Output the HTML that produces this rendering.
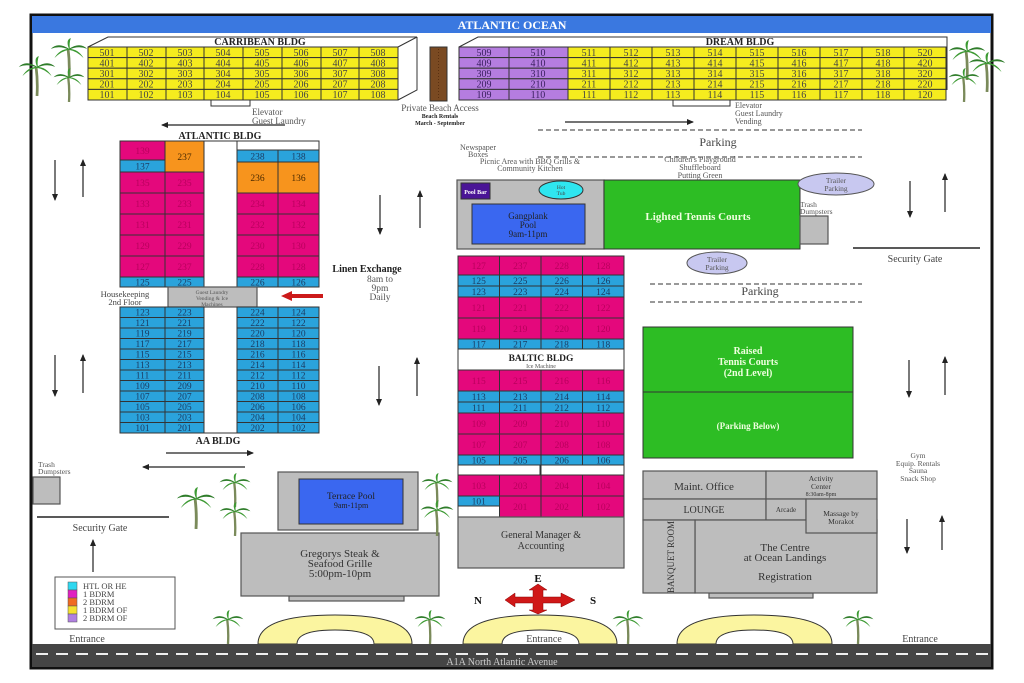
<!DOCTYPE html>
<html><head><meta charset="utf-8"><style>
html,body{margin:0;padding:0;background:#fff;}
svg{display:block;}
text{font-family:"Liberation Serif",serif;}
.c text,text.c{text-anchor:middle;}
.y rect{fill:#f5ec1e;stroke:#333;stroke-width:1;}
.y text{font-size:10px;fill:#444;text-anchor:middle;}
.p rect{fill:#e4087c;stroke:#333;stroke-width:1;}
.p text{font-size:9.5px;fill:#b8005c;text-anchor:middle;}
.b rect{fill:#2aa3dc;stroke:#333;stroke-width:1;}
.b text{font-size:9.5px;fill:#1b3c63;text-anchor:middle;}
.o rect{fill:#f7941d;stroke:#333;stroke-width:1;}
.o text{font-size:9.5px;fill:#4a2a00;text-anchor:middle;}
.v rect{fill:#b57de0;stroke:#333;stroke-width:1;}
.v text{font-size:10px;fill:#3a2060;text-anchor:middle;}
.g{fill:#bdbdbd;stroke:#555;stroke-width:1.2;}
.t{font-size:9px;fill:#555;text-anchor:middle;}
.ar{stroke:#222;stroke-width:1.2;fill:none;}
</style></head><body>
<svg width="1024" height="683" viewBox="0 0 1024 683" xmlns="http://www.w3.org/2000/svg">
<defs>
<marker id="ah" markerWidth="8" markerHeight="8" refX="6" refY="4" orient="auto" markerUnits="userSpaceOnUse"><path d="M0,1 L7,4 L0,7 z" fill="#222"/></marker>
<symbol id="palm" viewBox="0 0 40 44">
<path d="M19,12 Q21,28 20,44" stroke="#7a8a5a" stroke-width="3" fill="none"/>
<path d="M20,12 Q8,4 0,12 Q10,8 20,13 Z" fill="#2f7d2a"/>
<path d="M20,12 Q32,4 40,12 Q30,8 20,13 Z" fill="#2f7d2a"/>
<path d="M20,12 Q10,12 4,22 Q12,14 20,13 Z" fill="#3d9a33"/>
<path d="M20,12 Q30,12 36,22 Q28,14 20,13 Z" fill="#3d9a33"/>
<path d="M20,12 Q16,2 22,0 Q20,6 21,12 Z" fill="#3d9a33"/>
</symbol>
</defs>

<!-- frame -->
<rect x="31" y="15" width="961" height="653" fill="#fff" stroke="#111" stroke-width="3"/>
<rect x="32" y="16" width="959" height="17" fill="#3a78e0"/>
<text x="512" y="29" class="c" style="font-size:12px;font-weight:bold;fill:#fff;">ATLANTIC OCEAN</text>

<!-- Caribbean 3d outline -->
<path d="M88,47 L108,37 L417,37 L398,47 M417,37 L417,90 L398,100" stroke="#333" fill="none"/>
<text x="260" y="45" class="c" style="font-size:10px;font-weight:bold;fill:#222;">CARRIBEAN BLDG</text>
<g class="y">
<rect x="88" y="47" width="39" height="10.6"/><rect x="127" y="47" width="39" height="10.6"/><rect x="166" y="47" width="38" height="10.6"/><rect x="204" y="47" width="39" height="10.6"/><rect x="243" y="47" width="39" height="10.6"/><rect x="282" y="47" width="39" height="10.6"/><rect x="321" y="47" width="38" height="10.6"/><rect x="359" y="47" width="39" height="10.6"/>
<text x="107" y="56">501</text><text x="146" y="56">502</text><text x="185" y="56">503</text><text x="223" y="56">504</text><text x="262" y="56">505</text><text x="301" y="56">506</text><text x="340" y="56">507</text><text x="378" y="56">508</text>
<rect x="88" y="57.6" width="39" height="10.6"/><rect x="127" y="57.6" width="39" height="10.6"/><rect x="166" y="57.6" width="38" height="10.6"/><rect x="204" y="57.6" width="39" height="10.6"/><rect x="243" y="57.6" width="39" height="10.6"/><rect x="282" y="57.6" width="39" height="10.6"/><rect x="321" y="57.6" width="38" height="10.6"/><rect x="359" y="57.6" width="39" height="10.6"/>
<text x="107" y="66.5">401</text><text x="146" y="66.5">402</text><text x="185" y="66.5">403</text><text x="223" y="66.5">404</text><text x="262" y="66.5">405</text><text x="301" y="66.5">406</text><text x="340" y="66.5">407</text><text x="378" y="66.5">408</text>
<rect x="88" y="68.2" width="39" height="10.6"/><rect x="127" y="68.2" width="39" height="10.6"/><rect x="166" y="68.2" width="38" height="10.6"/><rect x="204" y="68.2" width="39" height="10.6"/><rect x="243" y="68.2" width="39" height="10.6"/><rect x="282" y="68.2" width="39" height="10.6"/><rect x="321" y="68.2" width="38" height="10.6"/><rect x="359" y="68.2" width="39" height="10.6"/>
<text x="107" y="77">301</text><text x="146" y="77">302</text><text x="185" y="77">303</text><text x="223" y="77">304</text><text x="262" y="77">305</text><text x="301" y="77">306</text><text x="340" y="77">307</text><text x="378" y="77">308</text>
<rect x="88" y="78.8" width="39" height="10.6"/><rect x="127" y="78.8" width="39" height="10.6"/><rect x="166" y="78.8" width="38" height="10.6"/><rect x="204" y="78.8" width="39" height="10.6"/><rect x="243" y="78.8" width="39" height="10.6"/><rect x="282" y="78.8" width="39" height="10.6"/><rect x="321" y="78.8" width="38" height="10.6"/><rect x="359" y="78.8" width="39" height="10.6"/>
<text x="107" y="87.6">201</text><text x="146" y="87.6">202</text><text x="185" y="87.6">203</text><text x="223" y="87.6">204</text><text x="262" y="87.6">205</text><text x="301" y="87.6">206</text><text x="340" y="87.6">207</text><text x="378" y="87.6">208</text>
<rect x="88" y="89.4" width="39" height="10.6"/><rect x="127" y="89.4" width="39" height="10.6"/><rect x="166" y="89.4" width="38" height="10.6"/><rect x="204" y="89.4" width="39" height="10.6"/><rect x="243" y="89.4" width="39" height="10.6"/><rect x="282" y="89.4" width="39" height="10.6"/><rect x="321" y="89.4" width="38" height="10.6"/><rect x="359" y="89.4" width="39" height="10.6"/>
<text x="107" y="98.2">101</text><text x="146" y="98.2">102</text><text x="185" y="98.2">103</text><text x="223" y="98.2">104</text><text x="262" y="98.2">105</text><text x="301" y="98.2">106</text><text x="340" y="98.2">107</text><text x="378" y="98.2">108</text>
</g>
<path d="M211,100 L211,106 L250,106 L250,100" stroke="#333" fill="none"/>
<text x="252" y="115" style="font-size:9px;fill:#555;">Elevator</text>
<text x="252" y="124" style="font-size:9px;fill:#555;">Guest Laundry</text>
<line x1="285" y1="125" x2="162" y2="125" class="ar" marker-end="url(#ah)"/>

<!-- beach access -->
<rect x="430" y="47" width="17" height="54" fill="#7a4a22" stroke="#333"/>
<line x1="438.5" y1="49" x2="438.5" y2="99" stroke="#5a3010" stroke-dasharray="1,2"/>
<text x="440" y="111" class="t" style="font-size:9px;">Private Beach Access</text>
<text x="440" y="118" class="t" style="font-size:6px;font-weight:bold;fill:#222;">Beach Rentals</text>
<text x="440" y="125" class="t" style="font-size:6px;font-weight:bold;fill:#222;">March - September</text>

<!-- Dream 3d -->
<path d="M459,47 L478,37 L947,37 L947,47 M947,37 L947,90" stroke="#333" fill="none"/>
<text x="740" y="45" class="c" style="font-size:10px;font-weight:bold;fill:#222;">DREAM BLDG</text>
<g class="v">
<rect x="459" y="47" width="50" height="10.6"/><rect x="509" y="47" width="59" height="10.6"/>
<rect x="459" y="57.6" width="50" height="10.6"/><rect x="509" y="57.6" width="59" height="10.6"/>
<rect x="459" y="68.2" width="50" height="10.6"/><rect x="509" y="68.2" width="59" height="10.6"/>
<rect x="459" y="78.8" width="50" height="10.6"/><rect x="509" y="78.8" width="59" height="10.6"/>
<rect x="459" y="89.4" width="50" height="10.6"/><rect x="509" y="89.4" width="59" height="10.6"/>
<text x="484" y="56">509</text><text x="538" y="56">510</text>
<text x="484" y="66.5">409</text><text x="538" y="66.5">410</text>
<text x="484" y="77">309</text><text x="538" y="77">310</text>
<text x="484" y="87.6">209</text><text x="538" y="87.6">210</text>
<text x="484" y="98.2">109</text><text x="538" y="98.2">110</text>
</g>
<g class="y">
<rect x="568" y="47" width="42" height="10.6"/><rect x="610" y="47" width="42" height="10.6"/><rect x="652" y="47" width="42" height="10.6"/><rect x="694" y="47" width="42" height="10.6"/><rect x="736" y="47" width="42" height="10.6"/><rect x="778" y="47" width="42" height="10.6"/><rect x="820" y="47" width="42" height="10.6"/><rect x="862" y="47" width="42" height="10.6"/><rect x="904" y="47" width="42" height="10.6"/>
<rect x="568" y="57.6" width="42" height="10.6"/><rect x="610" y="57.6" width="42" height="10.6"/><rect x="652" y="57.6" width="42" height="10.6"/><rect x="694" y="57.6" width="42" height="10.6"/><rect x="736" y="57.6" width="42" height="10.6"/><rect x="778" y="57.6" width="42" height="10.6"/><rect x="820" y="57.6" width="42" height="10.6"/><rect x="862" y="57.6" width="42" height="10.6"/><rect x="904" y="57.6" width="42" height="10.6"/>
<rect x="568" y="68.2" width="42" height="10.6"/><rect x="610" y="68.2" width="42" height="10.6"/><rect x="652" y="68.2" width="42" height="10.6"/><rect x="694" y="68.2" width="42" height="10.6"/><rect x="736" y="68.2" width="42" height="10.6"/><rect x="778" y="68.2" width="42" height="10.6"/><rect x="820" y="68.2" width="42" height="10.6"/><rect x="862" y="68.2" width="42" height="10.6"/><rect x="904" y="68.2" width="42" height="10.6"/>
<rect x="568" y="78.8" width="42" height="10.6"/><rect x="610" y="78.8" width="42" height="10.6"/><rect x="652" y="78.8" width="42" height="10.6"/><rect x="694" y="78.8" width="42" height="10.6"/><rect x="736" y="78.8" width="42" height="10.6"/><rect x="778" y="78.8" width="42" height="10.6"/><rect x="820" y="78.8" width="42" height="10.6"/><rect x="862" y="78.8" width="42" height="10.6"/><rect x="904" y="78.8" width="42" height="10.6"/>
<rect x="568" y="89.4" width="42" height="10.6"/><rect x="610" y="89.4" width="42" height="10.6"/><rect x="652" y="89.4" width="42" height="10.6"/><rect x="694" y="89.4" width="42" height="10.6"/><rect x="736" y="89.4" width="42" height="10.6"/><rect x="778" y="89.4" width="42" height="10.6"/><rect x="820" y="89.4" width="42" height="10.6"/><rect x="862" y="89.4" width="42" height="10.6"/><rect x="904" y="89.4" width="42" height="10.6"/>
<text x="589" y="56">511</text><text x="631" y="56">512</text><text x="673" y="56">513</text><text x="715" y="56">514</text><text x="757" y="56">515</text><text x="799" y="56">516</text><text x="841" y="56">517</text><text x="883" y="56">518</text><text x="925" y="56">520</text>
<text x="589" y="66.5">411</text><text x="631" y="66.5">412</text><text x="673" y="66.5">413</text><text x="715" y="66.5">414</text><text x="757" y="66.5">415</text><text x="799" y="66.5">416</text><text x="841" y="66.5">417</text><text x="883" y="66.5">418</text><text x="925" y="66.5">420</text>
<text x="589" y="77">311</text><text x="631" y="77">312</text><text x="673" y="77">313</text><text x="715" y="77">314</text><text x="757" y="77">315</text><text x="799" y="77">316</text><text x="841" y="77">317</text><text x="883" y="77">318</text><text x="925" y="77">320</text>
<text x="589" y="87.6">211</text><text x="631" y="87.6">212</text><text x="673" y="87.6">213</text><text x="715" y="87.6">214</text><text x="757" y="87.6">215</text><text x="799" y="87.6">216</text><text x="841" y="87.6">217</text><text x="883" y="87.6">218</text><text x="925" y="87.6">220</text>
<text x="589" y="98.2">111</text><text x="631" y="98.2">112</text><text x="673" y="98.2">113</text><text x="715" y="98.2">114</text><text x="757" y="98.2">115</text><text x="799" y="98.2">116</text><text x="841" y="98.2">117</text><text x="883" y="98.2">118</text><text x="925" y="98.2">120</text>
</g>
<path d="M673,100 L673,106 L730,106 L730,100" stroke="#333" fill="none"/>
<text x="735" y="108" style="font-size:8px;fill:#555;">Elevator</text>
<text x="735" y="116" style="font-size:8px;fill:#555;">Guest Laundry</text>
<text x="735" y="124" style="font-size:8px;fill:#555;">Vending</text>
<line x1="565" y1="122" x2="693" y2="122" class="ar" marker-end="url(#ah)"/>

<!-- parking dashed -->
<line x1="538" y1="130" x2="862" y2="130" stroke="#333" stroke-dasharray="5,3"/>
<line x1="538" y1="157" x2="862" y2="157" stroke="#333" stroke-dasharray="5,3"/>
<text x="718" y="146" class="c" style="font-size:12px;fill:#444;">Parking</text>
<line x1="650" y1="284" x2="862" y2="284" stroke="#333" stroke-dasharray="5,3"/>
<line x1="650" y1="302" x2="862" y2="302" stroke="#333" stroke-dasharray="5,3"/>
<text x="760" y="295" class="c" style="font-size:12px;fill:#444;">Parking</text>

<text x="478" y="150" class="t" style="font-size:8px;">Newspaper</text>
<text x="478" y="157" class="t" style="font-size:8px;">Boxes</text>
<text x="530" y="164" class="t" style="font-size:8px;">Picnic Area with BBQ Grills &amp;</text>
<text x="530" y="171" class="t" style="font-size:8px;">Community Kitchen</text>
<text x="700" y="162" class="t" style="font-size:8px;">Children's Playground</text>
<text x="700" y="170" class="t" style="font-size:8px;">Shuffleboard</text>
<text x="700" y="178" class="t" style="font-size:8px;">Putting Green</text>

<!-- Gangplank -->
<rect x="457" y="180" width="147" height="69" class="g"/>
<rect x="461" y="183" width="29" height="16" fill="#4a1596" stroke="#333"/>
<text x="475.5" y="194" class="c" style="font-size:6px;font-weight:bold;fill:#fff;">Pool Bar</text>
<ellipse cx="561" cy="190" rx="22" ry="9" fill="#2fe6f0" stroke="#333"/>
<text x="561" y="189" class="c" style="font-size:5.5px;fill:#444;">Hot</text>
<text x="561" y="195" class="c" style="font-size:5.5px;fill:#444;">Tub</text>
<rect x="472" y="204" width="113" height="40" fill="#3a67f0" stroke="#333"/>
<text x="528" y="219" class="c" style="font-size:9px;fill:#222;">Gangplank</text>
<text x="528" y="228" class="c" style="font-size:9px;fill:#222;">Pool</text>
<text x="528" y="237" class="c" style="font-size:9px;fill:#222;">9am-11pm</text>
<rect x="604" y="180" width="196" height="69" fill="#2dbd24" stroke="#333"/>
<text x="698" y="220" class="c" style="font-size:11px;font-weight:bold;fill:#f0ffe0;">Lighted Tennis Courts</text>
<rect x="800" y="216" width="28" height="28" class="g"/>
<text x="800" y="207" style="font-size:7.5px;fill:#555;">Trash</text>
<text x="800" y="214" style="font-size:7.5px;fill:#555;">Dumpsters</text>
<ellipse cx="836" cy="184" rx="38" ry="11" fill="#c8c8f0" stroke="#555"/>
<text x="836" y="183" class="t" style="font-size:7.5px;">Trailer</text>
<text x="836" y="191" class="t" style="font-size:7.5px;">Parking</text>
<ellipse cx="717" cy="263" rx="30" ry="11" fill="#c8c8f0" stroke="#555"/>
<text x="717" y="262" class="t" style="font-size:7.5px;">Trailer</text>
<text x="717" y="270" class="t" style="font-size:7.5px;">Parking</text>
<line x1="853" y1="248" x2="980" y2="248" stroke="#222" stroke-width="1.5"/>
<text x="915" y="262" class="c" style="font-size:10px;fill:#444;">Security Gate</text>

<!-- Raised tennis -->
<rect x="643" y="327" width="210" height="65" fill="#2dbd24" stroke="#333"/>
<rect x="643" y="392" width="210" height="66" fill="#2dbd24" stroke="#333"/>
<text x="748" y="354" class="c" style="font-size:10px;font-weight:bold;fill:#f0ffe0;">Raised</text>
<text x="748" y="365" class="c" style="font-size:10px;font-weight:bold;fill:#f0ffe0;">Tennis Courts</text>
<text x="748" y="376" class="c" style="font-size:10px;font-weight:bold;fill:#f0ffe0;">(2nd Level)</text>
<text x="748" y="429" class="c" style="font-size:9px;font-weight:bold;fill:#f0ffe0;">(Parking Below)</text>

<!-- Atlantic bldg -->
<text x="220" y="139" class="c" style="font-size:10px;font-weight:bold;fill:#222;">ATLANTIC BLDG</text>
<rect x="204" y="141" width="33" height="146" fill="#fff" stroke="#333"/>
<rect x="204" y="307" width="33" height="126" fill="#fff" stroke="#333"/>
<rect x="237" y="141" width="82" height="9" fill="#fff" stroke="#333"/>
<g class="p">
<rect x="120" y="141" width="45" height="19"/><text x="142.5" y="154">139</text>
<rect x="120" y="172" width="45" height="21"/><rect x="165" y="172" width="39" height="21"/><text x="142.5" y="186">135</text><text x="184.5" y="186">235</text>
<rect x="120" y="193" width="45" height="21"/><rect x="165" y="193" width="39" height="21"/><rect x="237" y="193" width="41" height="21"/><rect x="278" y="193" width="41" height="21"/>
<text x="142.5" y="207">133</text><text x="184.5" y="207">233</text><text x="257.5" y="207">234</text><text x="298.5" y="207">134</text>
<rect x="120" y="214" width="45" height="21"/><rect x="165" y="214" width="39" height="21"/><rect x="237" y="214" width="41" height="21"/><rect x="278" y="214" width="41" height="21"/>
<text x="142.5" y="228">131</text><text x="184.5" y="228">231</text><text x="257.5" y="228">232</text><text x="298.5" y="228">132</text>
<rect x="120" y="235" width="45" height="21"/><rect x="165" y="235" width="39" height="21"/><rect x="237" y="235" width="41" height="21"/><rect x="278" y="235" width="41" height="21"/>
<text x="142.5" y="249">129</text><text x="184.5" y="249">229</text><text x="257.5" y="249">230</text><text x="298.5" y="249">130</text>
<rect x="120" y="256" width="45" height="21"/><rect x="165" y="256" width="39" height="21"/><rect x="237" y="256" width="41" height="21"/><rect x="278" y="256" width="41" height="21"/>
<text x="142.5" y="270">127</text><text x="184.5" y="270">237</text><text x="257.5" y="270">228</text><text x="298.5" y="270">128</text>
</g>
<g class="o">
<rect x="165" y="141" width="39" height="31"/><text x="184.5" y="160">237</text>
<rect x="237" y="162" width="41" height="31"/><rect x="278" y="162" width="41" height="31"/><text x="257.5" y="181">236</text><text x="298.5" y="181">136</text>
</g>
<g class="b">
<rect x="120" y="160" width="45" height="12"/><text x="142.5" y="169.5">137</text>
<rect x="237" y="150" width="41" height="12"/><rect x="278" y="150" width="41" height="12"/><text x="257.5" y="159.5">238</text><text x="298.5" y="159.5">138</text>
<rect x="120" y="277" width="45" height="10"/><rect x="165" y="277" width="39" height="10"/><rect x="237" y="277" width="41" height="10"/><rect x="278" y="277" width="41" height="10"/>
<text x="142.5" y="285.5">125</text><text x="184.5" y="285.5">225</text><text x="257.5" y="285.5">226</text><text x="298.5" y="285.5">126</text>
</g>
<rect x="168" y="287" width="89" height="20" class="g"/>
<text x="212" y="294" class="t" style="font-size:5.5px;">Guest Laundry</text>
<text x="212" y="300" class="t" style="font-size:5.5px;">Vending &amp; Ice</text>
<text x="212" y="306" class="t" style="font-size:5.5px;">Machines</text>
<text x="125" y="297" class="t" style="font-size:8.5px;fill:#444;">Housekeeping</text>
<text x="125" y="305" class="t" style="font-size:8.5px;fill:#444;">2nd Floor</text>
<g class="b">
<rect x="120" y="307" width="45" height="10.5"/><rect x="165" y="307" width="39" height="10.5"/><rect x="237" y="307" width="41" height="10.5"/><rect x="278" y="307" width="41" height="10.5"/>
<rect x="120" y="317.5" width="45" height="10.5"/><rect x="165" y="317.5" width="39" height="10.5"/><rect x="237" y="317.5" width="41" height="10.5"/><rect x="278" y="317.5" width="41" height="10.5"/>
<rect x="120" y="328" width="45" height="10.5"/><rect x="165" y="328" width="39" height="10.5"/><rect x="237" y="328" width="41" height="10.5"/><rect x="278" y="328" width="41" height="10.5"/>
<rect x="120" y="338.5" width="45" height="10.5"/><rect x="165" y="338.5" width="39" height="10.5"/><rect x="237" y="338.5" width="41" height="10.5"/><rect x="278" y="338.5" width="41" height="10.5"/>
<rect x="120" y="349" width="45" height="10.5"/><rect x="165" y="349" width="39" height="10.5"/><rect x="237" y="349" width="41" height="10.5"/><rect x="278" y="349" width="41" height="10.5"/>
<rect x="120" y="359.5" width="45" height="10.5"/><rect x="165" y="359.5" width="39" height="10.5"/><rect x="237" y="359.5" width="41" height="10.5"/><rect x="278" y="359.5" width="41" height="10.5"/>
<rect x="120" y="370" width="45" height="10.5"/><rect x="165" y="370" width="39" height="10.5"/><rect x="237" y="370" width="41" height="10.5"/><rect x="278" y="370" width="41" height="10.5"/>
<rect x="120" y="380.5" width="45" height="10.5"/><rect x="165" y="380.5" width="39" height="10.5"/><rect x="237" y="380.5" width="41" height="10.5"/><rect x="278" y="380.5" width="41" height="10.5"/>
<rect x="120" y="391" width="45" height="10.5"/><rect x="165" y="391" width="39" height="10.5"/><rect x="237" y="391" width="41" height="10.5"/><rect x="278" y="391" width="41" height="10.5"/>
<rect x="120" y="401.5" width="45" height="10.5"/><rect x="165" y="401.5" width="39" height="10.5"/><rect x="237" y="401.5" width="41" height="10.5"/><rect x="278" y="401.5" width="41" height="10.5"/>
<rect x="120" y="412" width="45" height="10.5"/><rect x="165" y="412" width="39" height="10.5"/><rect x="237" y="412" width="41" height="10.5"/><rect x="278" y="412" width="41" height="10.5"/>
<rect x="120" y="422.5" width="45" height="10.5"/><rect x="165" y="422.5" width="39" height="10.5"/><rect x="237" y="422.5" width="41" height="10.5"/><rect x="278" y="422.5" width="41" height="10.5"/>
<text x="142.5" y="315.5">123</text><text x="184.5" y="315.5">223</text><text x="257.5" y="315.5">224</text><text x="298.5" y="315.5">124</text>
<text x="142.5" y="326">121</text><text x="184.5" y="326">221</text><text x="257.5" y="326">222</text><text x="298.5" y="326">122</text>
<text x="142.5" y="336.5">119</text><text x="184.5" y="336.5">219</text><text x="257.5" y="336.5">220</text><text x="298.5" y="336.5">120</text>
<text x="142.5" y="347">117</text><text x="184.5" y="347">217</text><text x="257.5" y="347">218</text><text x="298.5" y="347">118</text>
<text x="142.5" y="357.5">115</text><text x="184.5" y="357.5">215</text><text x="257.5" y="357.5">216</text><text x="298.5" y="357.5">116</text>
<text x="142.5" y="368">113</text><text x="184.5" y="368">213</text><text x="257.5" y="368">214</text><text x="298.5" y="368">114</text>
<text x="142.5" y="378.5">111</text><text x="184.5" y="378.5">211</text><text x="257.5" y="378.5">212</text><text x="298.5" y="378.5">112</text>
<text x="142.5" y="389">109</text><text x="184.5" y="389">209</text><text x="257.5" y="389">210</text><text x="298.5" y="389">110</text>
<text x="142.5" y="399.5">107</text><text x="184.5" y="399.5">207</text><text x="257.5" y="399.5">208</text><text x="298.5" y="399.5">108</text>
<text x="142.5" y="410">105</text><text x="184.5" y="410">205</text><text x="257.5" y="410">206</text><text x="298.5" y="410">106</text>
<text x="142.5" y="420.5">103</text><text x="184.5" y="420.5">203</text><text x="257.5" y="420.5">204</text><text x="298.5" y="420.5">104</text>
<text x="142.5" y="431">101</text><text x="184.5" y="431">201</text><text x="257.5" y="431">202</text><text x="298.5" y="431">102</text>
</g>
<text x="218" y="444" class="c" style="font-size:10px;font-weight:bold;fill:#222;">AA BLDG</text>
<line x1="166" y1="453" x2="253" y2="453" class="ar" marker-end="url(#ah)"/>
<line x1="245" y1="467" x2="143" y2="467" class="ar" marker-end="url(#ah)"/>

<text x="367" y="272" class="c" style="font-size:10px;font-weight:bold;fill:#222;">Linen Exchange</text>
<text x="380" y="282" class="c" style="font-size:9.5px;fill:#555;">8am to</text>
<text x="380" y="291" class="c" style="font-size:9.5px;fill:#555;">9pm</text>
<text x="380" y="300" class="c" style="font-size:9.5px;fill:#555;">Daily</text>
<path d="M323,294 L292,294 L292,291 L281,296 L292,301 L292,298 L323,298 Z" fill="#cc1a1a"/>

<!-- Baltic -->
<g class="p">
<rect x="458" y="256" width="41.5" height="19"/><rect x="499.5" y="256" width="41.5" height="19"/><rect x="541" y="256" width="41.5" height="19"/><rect x="582.5" y="256" width="41.5" height="19"/>
<text x="478.75" y="269">127</text><text x="520.25" y="269">237</text><text x="561.75" y="269">228</text><text x="603.25" y="269">128</text>
<rect x="458" y="297" width="41.5" height="21"/><rect x="499.5" y="297" width="41.5" height="21"/><rect x="541" y="297" width="41.5" height="21"/><rect x="582.5" y="297" width="41.5" height="21"/>
<text x="478.75" y="311">121</text><text x="520.25" y="311">221</text><text x="561.75" y="311">222</text><text x="603.25" y="311">122</text>
<rect x="458" y="318" width="41.5" height="21"/><rect x="499.5" y="318" width="41.5" height="21"/><rect x="541" y="318" width="41.5" height="21"/><rect x="582.5" y="318" width="41.5" height="21"/>
<text x="478.75" y="332">119</text><text x="520.25" y="332">219</text><text x="561.75" y="332">220</text><text x="603.25" y="332">120</text>
<rect x="458" y="370" width="41.5" height="21"/><rect x="499.5" y="370" width="41.5" height="21"/><rect x="541" y="370" width="41.5" height="21"/><rect x="582.5" y="370" width="41.5" height="21"/>
<text x="478.75" y="384">115</text><text x="520.25" y="384">215</text><text x="561.75" y="384">216</text><text x="603.25" y="384">116</text>
<rect x="458" y="413" width="41.5" height="21"/><rect x="499.5" y="413" width="41.5" height="21"/><rect x="541" y="413" width="41.5" height="21"/><rect x="582.5" y="413" width="41.5" height="21"/>
<text x="478.75" y="427">109</text><text x="520.25" y="427">209</text><text x="561.75" y="427">210</text><text x="603.25" y="427">110</text>
<rect x="458" y="434" width="41.5" height="21"/><rect x="499.5" y="434" width="41.5" height="21"/><rect x="541" y="434" width="41.5" height="21"/><rect x="582.5" y="434" width="41.5" height="21"/>
<text x="478.75" y="448">107</text><text x="520.25" y="448">207</text><text x="561.75" y="448">208</text><text x="603.25" y="448">108</text>
<rect x="458" y="475" width="41.5" height="21"/><rect x="499.5" y="475" width="41.5" height="21"/><rect x="541" y="475" width="41.5" height="21"/><rect x="582.5" y="475" width="41.5" height="21"/>
<text x="478.75" y="489">103</text><text x="520.25" y="489">203</text><text x="561.75" y="489">204</text><text x="603.25" y="489">104</text>
<rect x="499.5" y="496" width="41.5" height="21"/><rect x="541" y="496" width="41.5" height="21"/><rect x="582.5" y="496" width="41.5" height="21"/>
<text x="520.25" y="510">201</text><text x="561.75" y="510">202</text><text x="603.25" y="510">102</text>
</g>
<g class="b">
<rect x="458" y="275" width="41.5" height="11"/><rect x="499.5" y="275" width="41.5" height="11"/><rect x="541" y="275" width="41.5" height="11"/><rect x="582.5" y="275" width="41.5" height="11"/>
<text x="478.75" y="284">125</text><text x="520.25" y="284">225</text><text x="561.75" y="284">226</text><text x="603.25" y="284">126</text>
<rect x="458" y="286" width="41.5" height="11"/><rect x="499.5" y="286" width="41.5" height="11"/><rect x="541" y="286" width="41.5" height="11"/><rect x="582.5" y="286" width="41.5" height="11"/>
<text x="478.75" y="295">123</text><text x="520.25" y="295">223</text><text x="561.75" y="295">224</text><text x="603.25" y="295">124</text>
<rect x="458" y="339" width="41.5" height="10"/><rect x="499.5" y="339" width="41.5" height="10"/><rect x="541" y="339" width="41.5" height="10"/><rect x="582.5" y="339" width="41.5" height="10"/>
<text x="478.75" y="347.5">117</text><text x="520.25" y="347.5">217</text><text x="561.75" y="347.5">218</text><text x="603.25" y="347.5">118</text>
<rect x="458" y="391" width="41.5" height="11"/><rect x="499.5" y="391" width="41.5" height="11"/><rect x="541" y="391" width="41.5" height="11"/><rect x="582.5" y="391" width="41.5" height="11"/>
<text x="478.75" y="400">113</text><text x="520.25" y="400">213</text><text x="561.75" y="400">214</text><text x="603.25" y="400">114</text>
<rect x="458" y="402" width="41.5" height="11"/><rect x="499.5" y="402" width="41.5" height="11"/><rect x="541" y="402" width="41.5" height="11"/><rect x="582.5" y="402" width="41.5" height="11"/>
<text x="478.75" y="411">111</text><text x="520.25" y="411">211</text><text x="561.75" y="411">212</text><text x="603.25" y="411">112</text>
<rect x="458" y="455" width="41.5" height="10"/><rect x="499.5" y="455" width="41.5" height="10"/><rect x="541" y="455" width="41.5" height="10"/><rect x="582.5" y="455" width="41.5" height="10"/>
<text x="478.75" y="463.5">105</text><text x="520.25" y="463.5">205</text><text x="561.75" y="463.5">206</text><text x="603.25" y="463.5">106</text>
<rect x="458" y="496" width="41.5" height="10"/><text x="478.75" y="504.5">101</text>
</g>
<rect x="458" y="349" width="166" height="21" fill="#fff" stroke="#333"/>
<text x="541" y="361" class="c" style="font-size:9.5px;font-weight:bold;fill:#222;">BALTIC BLDG</text>
<text x="541" y="368" class="c" style="font-size:6px;fill:#555;">Ice Machine</text>
<rect x="458" y="465" width="82" height="10" fill="#fff" stroke="#333"/>
<rect x="541" y="465" width="83" height="10" fill="#fff" stroke="#333"/>
<rect x="458" y="506" width="41.5" height="11" fill="#fff" stroke="#333"/>
<rect x="458" y="517" width="166" height="51" class="g"/>
<text x="541" y="538" class="c" style="font-size:10px;fill:#333;">General Manager &amp;</text>
<text x="541" y="549" class="c" style="font-size:10px;fill:#333;">Accounting</text>

<!-- Terrace pool & Gregorys -->
<rect x="278" y="472" width="140" height="58" class="g"/>
<rect x="299" y="479" width="104" height="45" fill="#3a67f0" stroke="#333"/>
<text x="351" y="499" class="c" style="font-size:9.5px;fill:#222;">Terrace Pool</text>
<text x="351" y="508" class="c" style="font-size:8px;fill:#222;">9am-11pm</text>
<rect x="289" y="596" width="115" height="5" class="g"/>
<rect x="241" y="533" width="198" height="63" class="g"/>
<text x="340" y="557" class="c" style="font-size:11px;fill:#333;">Gregorys Steak &amp;</text>
<text x="340" y="567" class="c" style="font-size:11px;fill:#333;">Seafood Grille</text>
<text x="340" y="577" class="c" style="font-size:11px;fill:#333;">5:00pm-10pm</text>

<!-- left side -->
<rect x="33" y="477" width="27" height="27" class="g"/>
<text x="38" y="467" style="font-size:7.5px;fill:#555;">Trash</text>
<text x="38" y="474" style="font-size:7.5px;fill:#555;">Dumpsters</text>
<line x1="37" y1="517" x2="169" y2="517" stroke="#222" stroke-width="1.5"/>
<text x="100" y="531" class="c" style="font-size:10px;fill:#444;">Security Gate</text>
<line x1="93" y1="572" x2="93" y2="540" class="ar" marker-end="url(#ah)"/>

<!-- legend -->
<rect x="55" y="577" width="120" height="52" fill="#fff" stroke="#555"/>
<rect x="68" y="582" width="9" height="8" fill="#2fd8f0" stroke="#555" stroke-width=".5"/>
<rect x="68" y="590" width="9" height="8" fill="#e020c0" stroke="#555" stroke-width=".5"/>
<rect x="68" y="598" width="9" height="8" fill="#f06a20" stroke="#555" stroke-width=".5"/>
<rect x="68" y="606" width="9" height="8" fill="#f5e030" stroke="#555" stroke-width=".5"/>
<rect x="68" y="614" width="9" height="8" fill="#b07fe0" stroke="#555" stroke-width=".5"/>
<g style="font-size:8.5px;fill:#444;">
<text x="83" y="589">HTL OR HE</text><text x="83" y="597">1 BDRM</text><text x="83" y="605">2 BDRM</text><text x="83" y="613">1 BDRM OF</text><text x="83" y="621">2 BDRM OF</text>
</g>

<!-- centre block -->
<rect x="709" y="593" width="104" height="5" class="g"/>
<rect x="643" y="471" width="123" height="28" class="g"/>
<text x="704" y="490" class="c" style="font-size:11px;fill:#333;">Maint. Office</text>
<rect x="766" y="471" width="111" height="28" class="g"/>
<text x="821" y="481" class="c" style="font-size:7.5px;fill:#333;">Activity</text>
<text x="821" y="489" class="c" style="font-size:7.5px;fill:#333;">Center</text>
<text x="821" y="496" class="c" style="font-size:6px;fill:#333;">8:30am-8pm</text>
<rect x="643" y="499" width="123" height="21" class="g"/>
<text x="704" y="513" class="c" style="font-size:10px;fill:#333;">LOUNGE</text>
<rect x="766" y="499" width="40" height="21" class="g"/>
<text x="786" y="512" class="c" style="font-size:7px;fill:#333;">Arcade</text>
<rect x="695" y="520" width="182" height="73" class="g"/>
<rect x="806" y="499" width="71" height="34" class="g"/>
<text x="841" y="516" class="c" style="font-size:7.5px;fill:#333;">Massage by</text>
<text x="841" y="524" class="c" style="font-size:7.5px;fill:#333;">Morakot</text>
<rect x="643" y="520" width="52" height="73" class="g"/>
<text transform="translate(674,557) rotate(-90)" class="c" style="font-size:9px;fill:#333;">BANQUET ROOM</text>
<text x="785" y="551" class="c" style="font-size:11px;fill:#333;">The Centre</text>
<text x="785" y="561" class="c" style="font-size:11px;fill:#333;">at Ocean Landings</text>
<text x="785" y="580" class="c" style="font-size:11px;fill:#333;">Registration</text>
<g style="font-size:7.5px;fill:#555;text-anchor:middle;">
<text x="918" y="458">Gym</text><text x="918" y="466">Equip. Rentals</text><text x="918" y="473">Sauna</text><text x="918" y="481">Snack Shop</text>
</g>

<!-- vertical traffic arrows -->
<line x1="55" y1="160" x2="55" y2="200" class="ar" marker-end="url(#ah)"/>
<line x1="83" y1="197" x2="83" y2="160" class="ar" marker-end="url(#ah)"/>
<line x1="55" y1="355" x2="55" y2="396" class="ar" marker-end="url(#ah)"/>
<line x1="83" y1="393" x2="83" y2="355" class="ar" marker-end="url(#ah)"/>
<line x1="380" y1="195" x2="380" y2="234" class="ar" marker-end="url(#ah)"/>
<line x1="420" y1="228" x2="420" y2="191" class="ar" marker-end="url(#ah)"/>
<line x1="379" y1="366" x2="379" y2="405" class="ar" marker-end="url(#ah)"/>
<line x1="417" y1="396" x2="417" y2="358" class="ar" marker-end="url(#ah)"/>
<line x1="910" y1="181" x2="910" y2="217" class="ar" marker-end="url(#ah)"/>
<line x1="945" y1="212" x2="945" y2="174" class="ar" marker-end="url(#ah)"/>
<line x1="909" y1="360" x2="909" y2="397" class="ar" marker-end="url(#ah)"/>
<line x1="945" y1="395" x2="945" y2="357" class="ar" marker-end="url(#ah)"/>
<line x1="907" y1="519" x2="907" y2="553" class="ar" marker-end="url(#ah)"/>
<line x1="942" y1="550" x2="942" y2="516" class="ar" marker-end="url(#ah)"/>

<!-- compass -->
<path d="M505,600 L515,593 L515,597 L533,597 L533,590 L529,590 L538,584 L547,590 L543,590 L543,597 L561,597 L561,593 L575,600 L561,607 L561,603 L543,603 L543,610 L547,610 L538,614 L529,610 L533,610 L533,603 L515,603 L515,607 Z" fill="#d01818" stroke="#800" stroke-width=".5"/>
<text x="478" y="604" class="c" style="font-size:11px;font-weight:bold;fill:#111;">N</text>
<text x="593" y="604" class="c" style="font-size:11px;font-weight:bold;fill:#111;">S</text>
<text x="538" y="582" class="c" style="font-size:11px;font-weight:bold;fill:#111;">E</text>
<text x="538" y="625" class="c" style="font-size:11px;font-weight:bold;fill:#111;">W</text>

<!-- arches -->
<path d="M258,644 Q258,615 335,615 Q412,615 412,644 L374,644 Q374,630 335,630 Q297,630 297,644 Z" fill="#fbf5a0" stroke="#333"/>
<path d="M463,644 Q463,615 540,615 Q617,615 617,644 L579,644 Q579,630 540,630 Q502,630 502,644 Z" fill="#fbf5a0" stroke="#333"/>
<path d="M677,644 Q677,615 754,615 Q832,615 832,644 L793,644 Q793,630 754,630 Q716,630 716,644 Z" fill="#fbf5a0" stroke="#333"/>

<!-- road -->
<rect x="32" y="644" width="959" height="23" fill="#454545"/>
<line x1="36" y1="654" x2="991" y2="654" stroke="#eee" stroke-width="2" stroke-dasharray="12,8"/>
<text x="502" y="665" class="c" style="font-size:10px;fill:#ccc;">A1A North Atlantic Avenue</text>
<text x="87" y="642" class="c" style="font-size:10px;fill:#444;">Entrance</text>
<text x="544" y="642" class="c" style="font-size:10px;fill:#444;">Entrance</text>
<text x="920" y="642" class="c" style="font-size:10px;fill:#444;">Entrance</text>

<!-- palms -->
<use href="#palm" x="50" y="38" width="38" height="40"/>
<use href="#palm" x="18" y="56" width="38" height="40"/>
<use href="#palm" x="50" y="68" width="38" height="34"/>
<use href="#palm" x="948" y="40" width="38" height="40"/>
<use href="#palm" x="968" y="52" width="38" height="40"/>
<use href="#palm" x="945" y="68" width="38" height="34"/>
<use href="#palm" x="176" y="487" width="40" height="42"/>
<use href="#palm" x="215" y="473" width="40" height="34"/>
<use href="#palm" x="215" y="502" width="40" height="34"/>
<use href="#palm" x="418" y="473" width="38" height="34"/>
<use href="#palm" x="418" y="500" width="38" height="36"/>
<use href="#palm" x="208" y="610" width="40" height="34"/>
<use href="#palm" x="410" y="610" width="40" height="34"/>
<use href="#palm" x="608" y="610" width="40" height="34"/>
<use href="#palm" x="838" y="610" width="40" height="34"/>
</svg>
</body></html>
